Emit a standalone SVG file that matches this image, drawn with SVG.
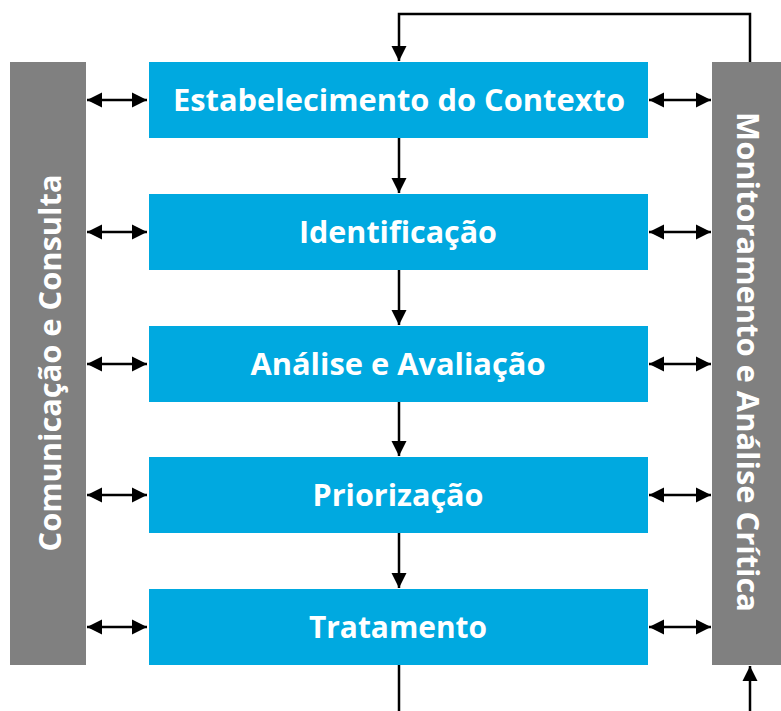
<svg xmlns="http://www.w3.org/2000/svg" width="781" height="711" viewBox="0 0 781 711">
<style>
.box{fill:#00A9E0}
.bar{fill:#808080}
.t{font-family:"Open Sans","Liberation Sans",sans-serif;font-weight:bold;fill:#fff;font-size:30px;text-anchor:middle}
.c{stroke:#000;stroke-width:2.5;fill:none}
</style>
<defs>
<marker id="ah" markerUnits="userSpaceOnUse" markerWidth="16" markerHeight="16" viewBox="0 0 16 16" refX="15" refY="8" orient="auto-start-reverse">
<path d="M0,0.5 L15,8 L0,15.5 Z" fill="#000"/>
</marker>
</defs>
<g id="comunicacao">
<rect class="bar" x="10" y="62" width="76" height="603"/>
<text class="t" transform="translate(61,363) rotate(-90)" textLength="377" lengthAdjust="spacingAndGlyphs">Comunicação e Consulta</text>
</g>
<g id="monitoramento">
<rect class="bar" x="712" y="62" width="76" height="603"/>
<text class="t" transform="translate(737,362) rotate(90)" textLength="500" lengthAdjust="spacingAndGlyphs">Monitoramento e Análise Crítica</text>
</g>
<g id="contexto">
<rect class="box" x="149" y="62" width="499" height="76"/>
<text class="t" x="399" y="111" textLength="452" lengthAdjust="spacingAndGlyphs">Estabelecimento do Contexto</text>
</g>
<g id="identificacao">
<rect class="box" x="149" y="194" width="499" height="76"/>
<text class="t" x="398" y="243" textLength="198" lengthAdjust="spacingAndGlyphs">Identificação</text>
</g>
<g id="analise">
<rect class="box" x="149" y="326" width="499" height="76"/>
<text class="t" x="398" y="375" textLength="295" lengthAdjust="spacingAndGlyphs">Análise e Avaliação</text>
</g>
<g id="priorizacao">
<rect class="box" x="149" y="457" width="499" height="76"/>
<text class="t" x="398" y="506" textLength="171" lengthAdjust="spacingAndGlyphs">Priorização</text>
</g>
<g id="tratamento">
<rect class="box" x="149" y="589" width="499" height="76"/>
<text class="t" x="398" y="638" textLength="178" lengthAdjust="spacingAndGlyphs">Tratamento</text>
</g>
<g id="connectors">
<line class="c" x1="399" y1="138" x2="399" y2="193" marker-end="url(#ah)"/>
<line class="c" x1="399" y1="270" x2="399" y2="325" marker-end="url(#ah)"/>
<line class="c" x1="399" y1="402" x2="399" y2="456" marker-end="url(#ah)"/>
<line class="c" x1="399" y1="533" x2="399" y2="588" marker-end="url(#ah)"/>
<line class="c" x1="399" y1="665" x2="399" y2="711"/>
<path class="c" d="M750,62 V14 H399 V61" marker-end="url(#ah)"/>
<line class="c" x1="750" y1="711" x2="750" y2="666" marker-end="url(#ah)"/>
<line class="c" x1="87" y1="100" x2="147" y2="100" marker-start="url(#ah)" marker-end="url(#ah)"/>
<line class="c" x1="87" y1="232" x2="147" y2="232" marker-start="url(#ah)" marker-end="url(#ah)"/>
<line class="c" x1="87" y1="364" x2="147" y2="364" marker-start="url(#ah)" marker-end="url(#ah)"/>
<line class="c" x1="87" y1="495" x2="147" y2="495" marker-start="url(#ah)" marker-end="url(#ah)"/>
<line class="c" x1="87" y1="627" x2="147" y2="627" marker-start="url(#ah)" marker-end="url(#ah)"/>
<line class="c" x1="649" y1="100" x2="711" y2="100" marker-start="url(#ah)" marker-end="url(#ah)"/>
<line class="c" x1="649" y1="232" x2="711" y2="232" marker-start="url(#ah)" marker-end="url(#ah)"/>
<line class="c" x1="649" y1="364" x2="711" y2="364" marker-start="url(#ah)" marker-end="url(#ah)"/>
<line class="c" x1="649" y1="495" x2="711" y2="495" marker-start="url(#ah)" marker-end="url(#ah)"/>
<line class="c" x1="649" y1="627" x2="711" y2="627" marker-start="url(#ah)" marker-end="url(#ah)"/>
</g>
</svg>
